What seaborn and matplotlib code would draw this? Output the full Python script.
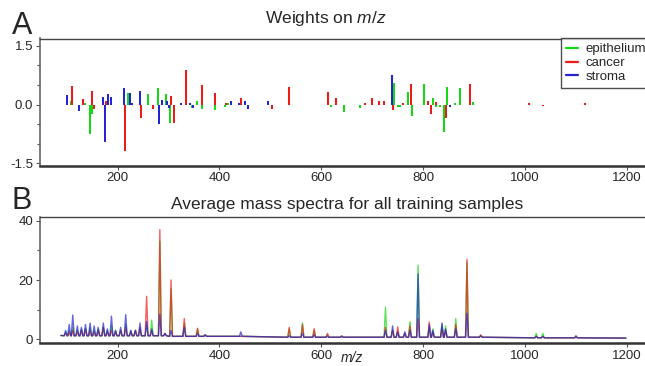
# Two-panel figure: classifier weights on m/z (A) and average mass spectra (B)

import numpy as np
import pandas as pd
import seaborn as sns
import matplotlib.pyplot as plt
from matplotlib.lines import Line2D

OUTPUT_PNG = 'out.png'

TISSUES = ['epithelium', 'cancer', 'stroma']
COLORS = {'epithelium': '#14d814', 'cancer': '#ee1a1a', 'stroma': '#2424d0'}

# ------------------------------
# Panel A: weights (m/z, weight) per tissue
# ------------------------------
epi_mz = [108, 136, 146, 150, 221, 259, 280, 295, 302, 324, 346, 355, 365, 392,
          411, 417, 619, 645, 676, 714, 724, 743, 750, 755, 771, 778, 802, 819,
          826, 833, 841, 846, 862, 873, 897]
epi_w = [0.10, 0.05, -0.76, -0.25, 0.30, 0.26, 0.42, 0.28, -0.48, 0.05, -0.08,
         0.08, -0.12, -0.14, -0.07, 0.05, -0.05, -0.20, -0.08, 0.05, 0.06, 0.55,
         -0.07, -0.06, 0.33, -0.30, 0.52, 0.17, -0.06, -0.07, -0.69, 0.46, 0.05,
         0.42, 0.06]

cancer_mz = [110, 133, 150, 154, 178, 215, 246, 270, 305, 311, 335, 365, 392,
             413, 443, 456, 504, 536, 614, 628, 685, 700, 714, 724, 740, 760,
             776, 810, 816, 826, 844, 891, 1007, 1036, 1118]
cancer_w = [0.47, 0.15, 0.36, -0.12, 0.10, -1.18, -0.33, -0.12, 0.22, -0.47,
            0.88, 0.50, 0.30, 0.05, 0.17, -0.10, -0.10, 0.45, 0.33, 0.18, 0.05,
            0.18, 0.10, 0.08, -0.15, 0.05, 0.52, 0.10, -0.25, 0.06, -0.33, 0.52,
            0.05, -0.04, 0.04]

stroma_mz = [100, 124, 171, 175, 181, 188, 213, 224, 229, 244, 282, 288, 297,
             300, 324, 342, 349, 423, 439, 451, 456, 496, 738, 852]
stroma_w = [0.25, -0.17, 0.20, -0.95, 0.27, 0.20, 0.43, 0.30, 0.05, 0.35, -0.50,
            0.12, 0.10, -0.08, 0.05, 0.05, -0.08, 0.10, 0.05, 0.10, -0.10, 0.08,
            0.76, -0.05]

# ------------------------------
# Panel B: peak apexes of the average spectra
# ------------------------------
peak_mz = [98, 105, 112, 121, 129, 137, 146, 154, 162, 172, 180, 188, 196, 206,
           216, 226, 235, 244, 257, 267, 283, 293, 305, 331, 357, 372, 442, 537,
           563, 586, 612, 640, 726, 740, 750, 764, 774, 790, 812, 819, 837, 844,
           864, 886, 913, 1022, 1035, 1100]
epi_peak = [2.5, 3.0, 4.0, 3.0, 3.5, 3.5, 4.0, 3.0, 3.5, 4.0, 3.0, 4.5, 3.0, 3.0,
            5.0, 3.0, 3.0, 3.5, 5.0, 6.5, 33.0, 2.0, 17.0, 5.5, 3.5, 1.5, 1.0, 3.5,
            5.5, 3.0, 1.5, 1.0, 10.8, 3.0, 2.5, 2.0, 6.0, 25.0, 4.0, 3.5, 5.0, 4.5,
            7.0, 26.0, 1.2, 2.0, 2.0, 1.0]
cancer_peak = [2.0, 2.5, 3.0, 2.5, 3.0, 3.5, 3.0, 2.5, 3.0, 4.0, 2.5, 3.0, 2.5,
               3.0, 4.0, 2.5, 3.0, 4.0, 14.5, 3.0, 37.0, 2.0, 20.0, 7.0, 3.7, 1.5,
               1.0, 4.0, 5.0, 3.6, 2.0, 1.2, 4.0, 3.0, 4.2, 2.0, 4.5, 7.0, 5.8, 2.5,
               4.0, 3.0, 5.0, 27.0, 1.5, 1.0, 1.0, 0.8]
stroma_peak = [3.0, 5.0, 8.2, 4.5, 4.0, 5.0, 5.5, 4.5, 4.0, 5.5, 3.5, 7.8, 3.0,
               4.0, 8.3, 3.0, 3.0, 5.5, 6.0, 3.5, 8.5, 2.0, 3.0, 4.0, 2.0, 1.5, 2.5,
               1.2, 2.0, 1.5, 1.0, 1.0, 3.0, 4.5, 2.5, 2.5, 3.0, 22.0, 5.0, 3.0, 5.5,
               3.5, 3.5, 8.8, 1.2, 1.0, 1.0, 1.2]
# baseline level around each peak
peak_foot = [1.2] * 22 + [1.0] * 5 + [0.7] * 18 + [0.5] * 3

SPEC_START = (89, 1.3)
SPEC_END = (1198, 0.4)
HALF_WIDTH = 2.8


def spectrum_points(peaks):
    xs, ys = [SPEC_START[0]], [SPEC_START[1]]
    for m, h, f in zip(peak_mz, peaks, peak_foot):
        xs += [m - HALF_WIDTH, m, m + HALF_WIDTH]
        ys += [f, h, f]
    xs.append(SPEC_END[0])
    ys.append(SPEC_END[1])
    return xs, ys


def build_spectra_df():
    frames = []
    for name, peaks in zip(TISSUES, [epi_peak, cancer_peak, stroma_peak]):
        xs, ys = spectrum_points(peaks)
        frames.append(pd.DataFrame({'mz': xs, 'intensity': ys, 'tissue': name}))
    return pd.concat(frames, ignore_index=True)


def style_axis(ax):
    ax.spines['right'].set_visible(False)
    ax.spines['top'].set_color('#444444')
    ax.spines['top'].set_linewidth(1.0)
    ax.spines['left'].set_color('#666666')
    ax.spines['left'].set_linewidth(1.2)
    ax.spines['bottom'].set_color('#333333')
    ax.spines['bottom'].set_linewidth(1.8)
    ax.tick_params(axis='both', which='both', direction='out', length=3,
                   width=0.8, color='#555555', labelsize=9.5, pad=1.5,
                   bottom=True, left=True, top=False, right=False)
    ax.tick_params(axis='both', which='minor', length=2)
    ax.set_xlim(46.7, 1265)
    ax.set_xticks([200, 400, 600, 800, 1000, 1200])
    ax.set_xlabel('')
    ax.set_ylabel('')


def draw_figure():
    sns.set_theme(style='ticks')
    plt.rcParams['font.family'] = ['Liberation Sans', 'DejaVu Sans']
    plt.rcParams['mathtext.fontset'] = 'custom'
    plt.rcParams['mathtext.it'] = 'Liberation Sans:italic'
    plt.rcParams['mathtext.rm'] = 'Liberation Sans'

    fig = plt.figure(figsize=(6.45, 3.66), dpi=100)
    W, H = 645.0, 366.0
    left, right = 39.5, 660.0
    axA = fig.add_axes([left / W, 1 - 166 / H, (right - left) / W, (166 - 38.5) / H])
    axB = fig.add_axes([left / W, 1 - 343.3 / H, (right - left) / W, (343.3 - 217.3) / H])

    # ------------------------------
    # Panel A: stem bars
    # ------------------------------
    for name, mz, w in [('epithelium', epi_mz, epi_w),
                        ('cancer', cancer_mz, cancer_w),
                        ('stroma', stroma_mz, stroma_w)]:
        axA.vlines(mz, 0, w, colors=COLORS[name], linewidth=1.45)
    style_axis(axA)
    axA.set_ylim(-1.57, 1.69)
    axA.set_yticks([-1.5, 0.0, 1.5])
    axA.set_yticks([-1.0, -0.5, 0.5, 1.0], minor=True)
    axA.set_yticklabels(['-1.5', '0.0', '1.5'])

    handles = [Line2D([0], [0], color=COLORS[t], lw=1.6) for t in TISSUES]
    leg = axA.legend(handles, TISSUES, loc='upper right', bbox_to_anchor=(0.985, 1.0),
                     borderaxespad=0, frameon=True, fancybox=False, fontsize=9.5,
                     handlelength=0.9, handletextpad=0.6, labelspacing=0.12,
                     borderpad=0.35)
    leg.get_frame().set_edgecolor('#222222')
    leg.get_frame().set_linewidth(1.0)

    # ------------------------------
    # Panel B: average spectra
    # ------------------------------
    spectra = build_spectra_df()
    sns.lineplot(data=spectra, x='mz', y='intensity', hue='tissue',
                 hue_order=TISSUES, palette=COLORS, estimator=None, sort=False,
                 linewidth=1.0, alpha=0.7, legend=False, ax=axB)
    style_axis(axB)
    axB.set_ylim(-1.35, 41.15)
    axB.set_yticks([0, 20, 40])
    axB.set_yticks([10, 30], minor=True)

    # ------------------------------
    # Titles and panel letters
    # ------------------------------
    fig.text(326 / W, 1 - 18 / H, 'Weights on $\\it{m/z}$', ha='center', va='center',
             fontsize=12.5)
    fig.text(347 / W, 1 - 205 / H, 'Average mass spectra for all training samples',
             ha='center', va='center', fontsize=12.5)
    fig.text(12 / W, 1 - 34 / H, 'A', fontsize=22, va='baseline', ha='left')
    fig.text(11 / W, 1 - 209 / H, 'B', fontsize=22, va='baseline', ha='left')
    fig.text(352 / W, 1 - 358 / H, 'm/z', fontsize=10, style='italic',
             ha='center', va='center')

    fig.savefig(OUTPUT_PNG, dpi=100)


if __name__ == '__main__':
    draw_figure()
